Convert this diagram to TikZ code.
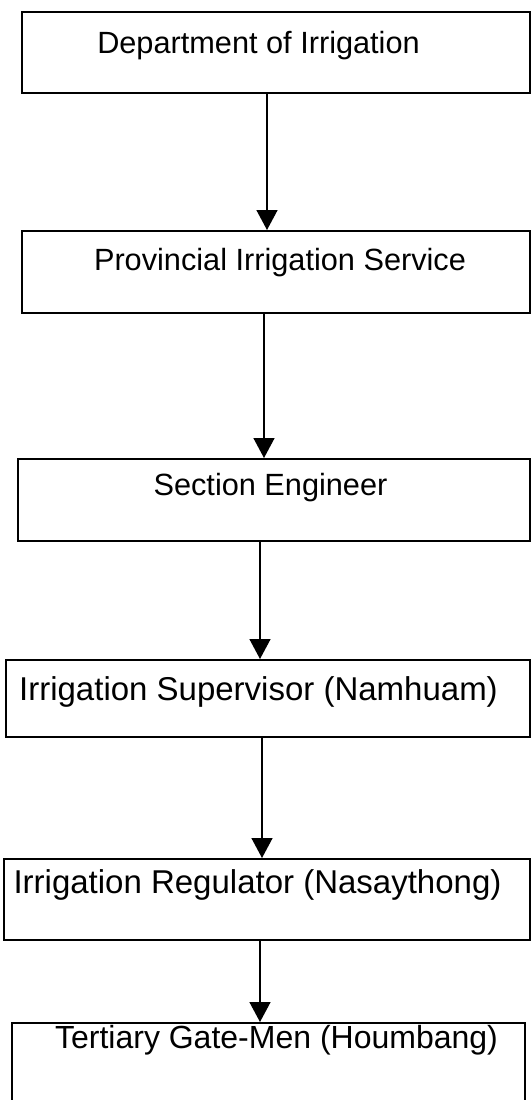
\documentclass[tikz,border=0pt]{standalone}
\usepackage{fontspec}
\setmainfont{Liberation Sans}
\usetikzlibrary{arrows.meta}
\tikzset{
  box/.style={draw=black, line width=1.6pt, rectangle, anchor=north west, inner sep=0pt},
  lab/.style={anchor=base, inner sep=0pt, text=black},
  fa/.style={font=\fontsize{30.7}{36}\selectfont},
  fb/.style={font=\fontsize{33}{38}\selectfont},
  fc/.style={font=\fontsize{32}{38}\selectfont},
  arr/.style={draw=black, line width=1.5pt, -{Triangle[width=21pt,length=20pt]}}
}
\begin{document}
\begin{tikzpicture}[x=1pt,y=-1pt]
\useasboundingbox (0,0) rectangle (531,1100);
\begin{scope}
\clip (0,0) rectangle (531,1100);
\node[box, minimum width=508pt, minimum height=81pt] (b1) at (21,11) {};
\node[box, minimum width=508pt, minimum height=82pt] (b2) at (21,230) {};
\node[box, minimum width=512pt, minimum height=82pt] (b3) at (17,458) {};
\node[box, minimum width=524pt, minimum height=77pt] (b4) at (5,659) {};
\node[box, minimum width=526pt, minimum height=81pt] (b5) at (3,858) {};
\node[box, minimum width=513pt, minimum height=100pt] (b6) at (11,1022) {};
\end{scope}
\node[lab, fa] (t1) at (258.5,53) {Department of Irrigation};
\node[lab, fa] (t2) at (280,270) {Provincial Irrigation Service};
\node[lab, fa] (t3) at (270.5,495) {Section Engineer};
\node[lab, fb] (t4) at (258.5,700) {Irrigation Supervisor (Namhuam)};
\node[lab, fb] (t5) at (257.5,893) {Irrigation Regulator (Nasaythong)};
\node[lab, fc] (t6) at (276.5,1048) {Tertiary Gate-Men (Houmbang)};
\draw[arr] ([xshift=246pt]b1.south west) -- ([xshift=246pt]b1.south west |- b2.north);
\draw[arr] ([xshift=243pt]b2.south west) -- ([xshift=243pt]b2.south west |- b3.north);
\draw[arr] ([xshift=243pt]b3.south west) -- ([xshift=243pt]b3.south west |- b4.north);
\draw[arr] ([xshift=257pt]b4.south west) -- ([xshift=257pt]b4.south west |- b5.north);
\draw[arr] ([xshift=257pt]b5.south west) -- ([xshift=257pt]b5.south west |- b6.north);
\end{tikzpicture}
\end{document}
